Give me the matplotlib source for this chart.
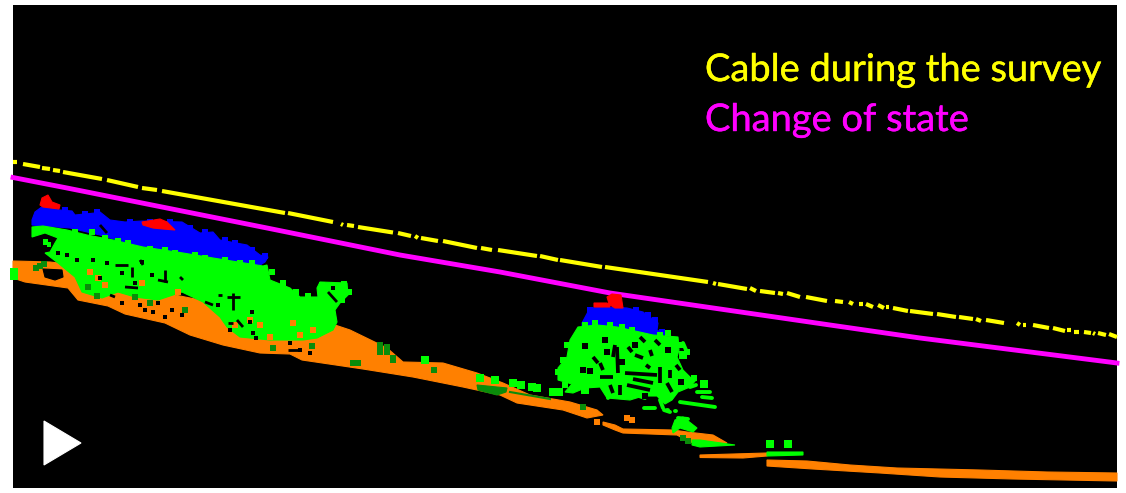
import matplotlib
matplotlib.use("Agg")
import matplotlib.pyplot as plt
import matplotlib.patheffects as pe
from matplotlib.patches import Rectangle

W, H = 1126, 493
YELLOW, MAGENTA, ORANGE = "#ffff00", "#ff00ff", "#ff8000"
BRIGHT, DARK, BLUE, RED = "#00ff00", "#0a8c0a", "#0000ff", "#ff0000"

cable_survey = [
    [(13,162),(17,162)],[(23,164),(40,167)],[(42,168),(50,169)],[(53,170),(60,171)],[(63,172),(102,179)],
    [(107,180),(138,187)],[(142,188),(157,190)],[(162,191),(285,213)],[(288,213),(333,222)],[(341,224),(343,225)],
    [(347,225),(354,226)],[(358,227),(393,232.5)],[(398,233),(411,236)],[(415,236),(418,238)],[(421,238),(438,241)],
    [(443,241),(477,248)],[(481,248),(492,250)],[(498,250),(537,256)],[(540,256),(558,260)],[(560,260),(602,267)],
    [(605,267),(708,282)],[(713,283),(716,284)],[(718,284),(747,289)],[(750,288),(756,291)],[(760,291),(775,293)],
    [(778,293),(783,294)],[(787,293),(800,297)],[(806,297),(827,301)],[(835,301),(843,302)],[(849,302),(853,304)],
    [(859,304),(863,304)],[(866,304),(873,307)],[(878,305),(884,308)],[(886,307),(889,307)],[(893,308),(908,311)],
    [(910,311),(933,314)],[(937,314),(956,317)],[(959,317),(973,319)],[(976,319),(981,321)],[(986,320),(1004,323)],
    [(1017,323),(1020,325)],[(1023,325),(1026,325)],[(1033,325),(1049,328)],[(1053,328),(1065,331)],[(1067,330),(1071,330)],
    [(1074,332),(1079,332)],[(1084,332),(1091,333)],[(1093,333),(1095,334)],[(1098,333),(1106,335)],[(1109,334),(1117,337)],
]
cable_change = [(13,177.5),(67,188),(167,208),(267,228),(400,255),(500,272),(610,293),(830,325),(920,338),(1117,363)]

ground_main = [(13,261),(50,262),(75,265),(100,278),(150,290),(200,300),(260,312),(335,325),(350,330),(387,348),(403,362),
    (443,363),(477,373),(503,383),(530,395),(570,402),(597,410),(603,415),(587,418),(563,410),(517,403),(500,395),(463,387),
    (413,377),(363,369),(302,360),(290,354),(260,353),(223,345),(190,335),(165,323),(125,314),(108,306),(78,300),(68,288),(25,282),(13,278)]
ground_mid = [(603,422),(615,425),(623,429),(673,430),(687,432),(713,435),(727,443),(713,445),(690,442),(677,435),(623,433),(615,430),(603,425)]
ground_thin = [(700,455),(767,453),(767,456),(743,458),(700,457.5)]
ground_far = [(767,460),(807,461),(850,465),(897,468),(980,470),(1047,472),(1117,473),(1117,481),(1013,479),(940,477),(880,473),(813,469),(767,466)]
ground_bits = [(627,418),(632,420),(597,422)]

blue_a = [(32,220),(35,212),(43,206),(60,210),(72,211),(75,215),(95,213),(100,212),(110,220),(125,222),(142,221),(182,222),
    (200,233),(213,232),(220,240),(247,245),(260,255),(268,257),(265,262),(257,267),(213,258),(183,253),(143,247),(110,238),
    (100,235),(70,228),(43,226),(32,225)]
blue_b = [(582,323),(590,308),(607,307),(627,308),(643,312),(658,323),(657,330),(665,335),(653,335),(630,333),(607,327),(582,327)]
blue_bumps = [(50,208),(65,210),(85,214),(97,212),(130,222),(150,222),(170,222),(190,228),(205,232),(225,240),(235,243),(252,250),
    (265,256),(590,310),(600,308),(636,310),(648,315),(655,320),(662,332)]
red_a = [(40,205),(42,198),(48,195),(52,202),(60,205),(59,209),(43,207)]
red_b = [(142,222),(160,219),(167,222),(175,230),(163,229),(153,228),(143,225)]
red_c = [(607,297),(612,294),(621,295),(623,308),(615,308),(607,303),(594,303),(594,307),(610,307)]

green_a = [(32,227),(43,226),(67,230),(87,235),(113,240),(143,247),(183,253),(213,258),(263,266),(267,265),(270,280),(290,288),(300,297),
    (318,297),(317,288),(320,282),(347,283),(348,295),(340,303),(335,310),(337,322),(333,330),(317,338),(303,340),(287,340),(270,340),
    (240,337),(227,327),(220,317),(203,302),(182,292),(158,300),(135,297),(118,292),(102,298),(82,292),(75,277),(58,263),(45,253),
    (50,252),(55,243),(58,238),(45,233),(32,237)]
green_b = [(578,327),(597,325),(617,327),(653,335),(678,337),(679,350),(677,357),(683,370),(691,378),(696,380),(690,387),(678,392),
    (672,400),(665,404),(657,396),(643,396),(630,400),(607,398),(600,387),(585,388),(573,393),(565,392),(572,384),(558,380),(558,368),
    (567,357),(570,340)]
green_top = [(672,428),(675,420),(683,417),(697,428),(693,432),(680,428),(673,433)]
green_low = [(692,440),(700,440),(735,445),(700,447),(692,445)]
green_far = [(767,452),(803,452),(803,455),(767,456)]
green_strips = [[(680,402),(715,407)],[(697,392),(710,392)],[(702,397),(712,398)],[(644,408),(655,408)],[(660,400),(663,408)],
    [(630,393),(645,398)],[(610,378),(608,398)],[(678,418),(688,419)],[(683,343),(686,350)],[(667,410),(668,410)],[(675,411),(676,411)],
    [(690,387),(696,385)],[(664,410),(670,412)]]
green_loose = [(770,444),(788,444),(14,272),(14,276),(480,378),(495,380),(513,383),(521,385),(532,387),(537,388),(554,392),(559,392),
    (425,360),(704,384),(585,390),(553,392),(683,355),(47,243)]
green_edge = [(75,232),(92,232),(105,238),(118,241),(128,243),(150,249),(165,250),
    (175,253),(195,255),(205,258),(225,260),(240,263),(252,263),(272,272),(283,283),(296,292),(308,296),(322,285),(344,284),(349,292),
    (342,300),(585,325),(595,323),(610,325),(622,327),(632,330),(660,335),(668,333),(680,345),(687,352),(694,378),(567,345),(563,360),
    (558,372),(565,385),(575,388)]

dark_poly = [(477,385),(507,388),(506,392),(497,395),(478,390)]
dark_line = [(510,392),(550,399)]
dark_dots = [(380,345),(387,347),(380,352),(393,360),(353,363),(358,363),(434,370),(583,407),(40,266),(36,268),(44,264),
    (97,296),(88,287),(135,297),(185,310),(273,348),(312,346),(380,350),(393,358),(387,352),(683,438),(688,441),(150,303)]
orange_spots = [(98,278),(142,283),(178,292),(250,320),(293,323),(313,330),(270,337),(90,272),(105,285),(235,325),(260,325),(300,335)]

hole_strokes_a = [[(233,293),(233,310)],[(227,297),(240,297)],[(218,295),(222,295)],[(205,302),(213,305)],[(228,323),(233,323)],
    [(237,320),(243,327)],[(288,350),(300,350)],[(328,292),(337,302)],[(115,265),(128,265)],[(132,267),(132,277)],[(140,260),(143,265)],
    [(165,270),(165,282)],[(158,280),(168,282)],[(180,277),(183,280)],[(125,287),(138,288)],[(110,295),(115,297)],[(100,225),(107,233)]]
holes_a = [(218,305),(230,330),(250,322),(252,312),(253,333),(256,338),(290,343),(300,350),(310,353),(333,288),(67,255),(58,253),
    (77,260),(93,260),(107,263),(142,262),(122,273),(152,275),(135,283),(100,278),(140,305),(145,310),(122,303),(153,312),(158,303),
    (172,310),(182,315),(165,317),(50,240),(45,247)]
hole_strokes_b = [[(615,345),(613,357)],[(617,347),(618,373)],[(635,355),(643,358)],[(625,373),(657,375)],[(633,379),(653,383)],
    [(600,377),(613,377)],[(593,357),(598,363)],[(600,363),(603,370)],[(660,367),(660,383)],[(670,370),(670,378)],[(667,383),(672,392)],
    [(627,385),(650,390)],[(610,385),(613,393)],[(620,385),(620,395)],[(640,337),(645,342)],[(655,340),(660,345)],[(650,350),(652,356)],
    [(628,347),(632,352)],[(646,365),(650,368)],[(676,365),(680,370)]]
holes_b = [(590,371),(585,346),(605,340),(622,362),(583,370),(635,345),(668,350),(607,352),(645,396),(681,382)]
hole_big = [(43,269),(62,270),(63,277),(55,280),(45,277)]
marker_triangle = [(44,421),(81,443),(44,465)]
labels = [("Cable during the survey", 705, 81, YELLOW), ("Change of state", 705, 131, MAGENTA)]

fig = plt.figure(figsize=(W/100, H/100), dpi=100, facecolor="white")
ax = fig.add_axes([0, 0, 1, 1])
ax.set_xlim(0, W); ax.set_ylim(H, 0); ax.axis("off")
ax.add_patch(Rectangle((13, 5), 1104, 483, color="black", lw=0, zorder=0))

def poly(p, c, z):
    ax.fill([q[0] for q in p], [q[1] for q in p], color=c, lw=0.8, zorder=z)
def dots(p, c, s, z):
    ax.scatter([q[0] for q in p], [q[1] for q in p], c=c, s=s, marker="s", lw=0, zorder=z)
def strokes(segs, c, lw, z, cap="butt"):
    for seg in segs:
        ax.plot([q[0] for q in seg], [q[1] for q in seg], color=c, lw=lw, solid_capstyle=cap, zorder=z)

strokes(cable_survey, YELLOW, 3.0, 3)
ax.plot([q[0] for q in cable_change], [q[1] for q in cable_change], color=MAGENTA, lw=3.5, zorder=3)

for p in (ground_main, ground_mid, ground_thin, ground_far):
    poly(p, ORANGE, 2)
dots(ground_bits, ORANGE, 16, 2)
poly(hole_big, "black", 2.5)
for p in (blue_a, blue_b):
    poly(p, BLUE, 3)
dots(blue_bumps, BLUE, 18, 3)
for p in (red_a, red_b, red_c):
    poly(p, RED, 3.5)
for p in (green_a, green_b, green_top, green_low, green_far):
    poly(p, BRIGHT, 4)
strokes(green_strips, BRIGHT, 2.8, 4, "round")
dots(green_loose, BRIGHT, 26, 4)
dots(green_edge, BRIGHT, 18, 4)
dots(orange_spots, ORANGE, 18, 5)
poly(dark_poly, DARK, 5)
ax.plot([q[0] for q in dark_line], [q[1] for q in dark_line], color=DARK, lw=1.5, zorder=5)
dots(dark_dots, DARK, 14, 5)
strokes(hole_strokes_a, "black", 2.0, 6)
strokes(hole_strokes_b, "black", 2.7, 6)
dots(holes_a, "black", 11, 6)
dots(holes_b, "black", 18, 6)
poly(marker_triangle, "white", 7)
for t, x, y, c in labels:
    txt = ax.text(x, y, t, color=c, fontsize=27.4, family="Lato", ha="left", va="baseline", zorder=8)
    txt.set_path_effects([pe.withStroke(linewidth=0.3, foreground=c)])
fig.savefig("out.png", dpi=100, facecolor="white")
